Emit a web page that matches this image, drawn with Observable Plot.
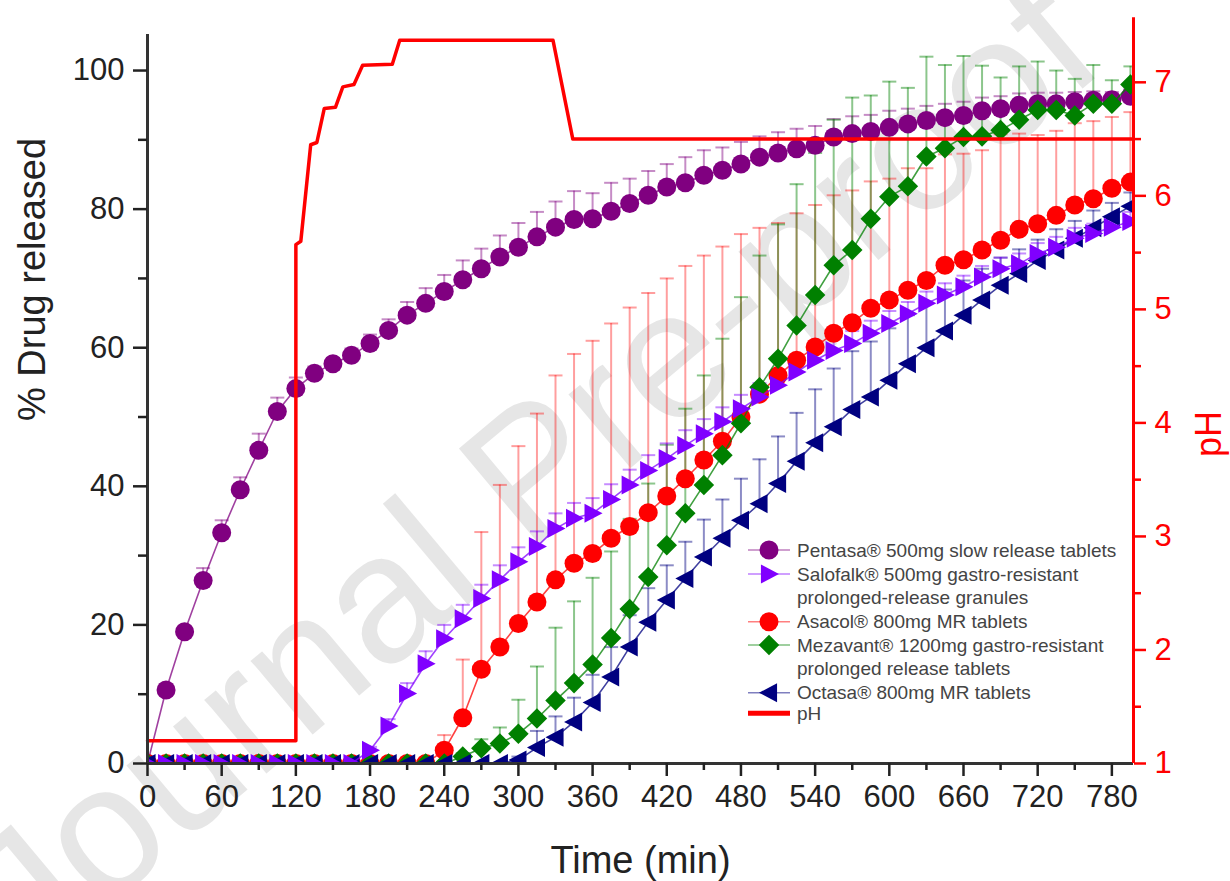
<!DOCTYPE html>
<html>
<head>
<meta charset="utf-8">
<script src="https://cdn.jsdelivr.net/npm/d3@7"></script>
<script src="https://cdn.jsdelivr.net/npm/@observablehq/plot@0.6"></script>
<style>
  html, body { margin: 0; padding: 0; background: #fff; }
  svg { display: block; }
</style>
</head>
<body>
<div id="chart"></div>
<script>
// ---------- DATA ----------
const time = [0,15,30,45,60,75,90,105,120,135,150,165,180,195,210,225,240,255,270,285,300,315,330,345,360,375,390,405,420,435,450,465,480,495,510,525,540,555,570,585,600,615,630,645,660,675,690,705,720,735,750,765,780,795];

const pentasa = [0,10.6,19.0,26.4,33.3,39.5,45.2,50.8,54.1,56.3,57.7,58.9,60.6,62.5,64.7,66.4,68.1,69.8,71.4,73.1,74.5,76.0,77.4,78.5,78.6,79.7,80.8,82.0,83.2,83.8,84.9,85.6,86.5,87.5,88.1,88.7,89.2,90.4,90.9,91.2,91.8,92.3,92.8,93.2,93.5,94.2,94.5,95.0,95.2,95.2,95.5,95.7,95.8,96.3];
const pentasaSD = [0,0.5,0.6,1.8,1.8,1.8,2.4,2.0,1.6,1.0,0.8,1.0,1.3,1.6,1.9,2.2,2.4,2.8,2.9,3.1,3.5,3.6,3.7,4.1,3.7,4.1,3.6,3.5,3.3,3.7,3.6,3.3,3.2,3.0,3.0,2.9,2.8,2.6,2.5,2.4,2.4,2.2,2.1,2.0,2.0,1.9,1.8,1.7,1.6,1.6,1.4,1.3,1.1,1.0];

const salofalk = [0,0,0,0,0,0,0,0,0,0,0,0,1.9,5.4,10.1,14.4,18.0,20.9,23.8,26.5,29.1,31.3,33.9,35.4,36.1,38.1,40.2,42.3,44.0,45.9,47.6,49.3,51.2,52.9,54.6,56.5,58.2,59.6,60.6,62.1,63.5,64.9,66.4,67.6,68.8,70.2,71.4,72.1,73.6,74.5,75.8,76.5,77.4,78.2];
const salofalkSD = [0,0,0,0,0,0,0,0,0,0,0,0,0.5,1.0,1.5,1.8,2.0,2.0,2.0,2.1,2.1,2.2,2.2,2.2,2.2,2.2,2.2,2.2,2.2,2.2,2.1,2.1,2.0,2.0,2.0,1.9,1.9,1.9,1.8,1.8,1.8,1.7,1.7,1.7,1.6,1.6,1.6,1.5,1.5,1.5,1.5,1.4,1.4,1.4];

const asacol = [0,0,0,0,0,0,0,0,0,0,0,0,0,0,0,0,1.9,6.6,13.6,16.8,20.2,23.3,26.5,28.9,30.3,32.5,34.2,36.2,38.6,41.1,43.8,46.5,50.0,53.3,56.0,58.2,60.1,62.1,63.6,65.7,66.9,68.3,69.7,71.9,72.7,74.1,75.5,77.1,77.9,79.1,80.6,81.5,83.0,83.9];
const asacolSD = [0,0,0,0,0,0,0,0,0,0,0,0,0,0,0,0,2.2,8.4,19.8,23.4,25.6,27.2,29.5,30.2,30.7,31.0,31.6,31.7,31.4,30.7,29.5,28.1,26.4,24.0,22.0,21.2,20.5,19.9,19.1,18.3,17.5,17.6,16.2,16.0,15.3,14.4,15.3,13.8,12.8,12.2,11.8,11.2,10.3,10.1];

const mezavant = [0,0,0,0,0,0,0,0,0,0,0,0,0,0,0,0,0,1.0,2.2,2.9,4.3,6.5,9.1,11.6,14.3,18.1,22.3,26.9,31.5,36.1,40.2,44.5,49.1,54.3,58.4,63.2,67.6,71.9,74.1,78.6,81.8,83.3,87.6,88.8,90.4,90.5,91.4,92.9,94.3,94.3,93.5,95.2,95.2,98.0];
const mezavantSD = [0,0,0,0,0,0,0,0,0,0,0,0,0,0,0,0,0,0.5,1.3,2.3,4.9,7.5,10.5,11.8,12.5,12.5,13.0,13.5,14.5,15.1,15.8,16.8,18.2,19.0,19.4,20.4,20.5,21.0,22.0,17.8,16.6,14.2,14.4,12.0,11.7,10.2,7.6,7.7,7.0,5.7,5.3,5.6,3.4,2.6];

const octasa = [0,0,0,0,0,0,0,0,0,0,0,0,0,0,0,0,0,0,0,0,0.5,2.3,3.8,6.0,8.8,12.5,16.8,20.4,23.6,26.7,29.8,32.5,35.1,37.5,40.4,43.6,46.3,48.6,51.1,52.9,55.3,57.7,60.0,62.4,64.7,66.9,69.0,70.7,72.6,74.1,75.8,77.3,78.9,80.4];
const octasaSD = [0,0,0,0,0,0,0,0,0,0,0,0,0,0,0,0,0,0,0,0,0.5,2.4,3.0,3.5,4.0,4.3,4.6,4.9,5.0,5.3,5.4,5.6,6.0,6.4,6.8,7.0,7.7,8.4,8.4,8.0,7.5,7.0,6.5,6.0,5.0,4.5,4.0,3.5,3.0,3.0,2.5,2.5,2.0,2.0];

// pH profile (time in min, pH)
const phTime  = [0, 120, 120, 124, 132, 137, 143, 152, 158, 167, 174, 198, 204, 328, 344, 797.5];
const phValue = [1.2, 1.2, 5.57, 5.6, 6.45, 6.47, 6.77, 6.78, 6.96, 6.98, 7.15, 7.16, 7.37, 7.37, 6.5, 6.5];

// tick labels
const xTicks = [0,60,120,180,240,300,360,420,480,540,600,660,720,780];
const xMinorTicks = [30,90,150,210,270,330,390,450,510,570,630,690,750];
const yTicks = [0,20,40,60,80,100];
const yMinorTicks = [10,30,50,70,90];
const phTicks = [1,2,3,4,5,6,7];
const phMinorTicks = [1.5,2.5,3.5,4.5,5.5,6.5];

const legendLabels = [
  ["Pentasa® 500mg slow release tablets"],
  ["Salofalk® 500mg gastro-resistant", "prolonged-release granules"],
  ["Asacol® 800mg MR tablets"],
  ["Mezavant® 1200mg gastro-resistant", "prolonged release tablets"],
  ["Octasa® 800mg MR tablets"],
  ["pH"]
];

// ---------- SYMBOLS ----------
const triRight = {draw(ctx, size){ const r = Math.sqrt(size/Math.PI); ctx.moveTo(1.05*r,0); ctx.lineTo(-0.85*r,-r); ctx.lineTo(-0.85*r,r); ctx.closePath(); }};
const triLeft  = {draw(ctx, size){ const r = Math.sqrt(size/Math.PI); ctx.moveTo(-1.05*r,0); ctx.lineTo(0.85*r,-r); ctx.lineTo(0.85*r,r); ctx.closePath(); }};
const diamondSq = {draw(ctx, size){ const r = Math.sqrt(size/Math.PI)*1.08; ctx.moveTo(0,-r); ctx.lineTo(r,0); ctx.lineTo(0,r); ctx.lineTo(-r,0); ctx.closePath(); }};
const capSym = {draw(ctx){ ctx.moveTo(-7,0); ctx.lineTo(7,0); }};

// ---------- SERIES ----------
const series = [
  {key:"Pentasa",  values:pentasa,  sd:pentasaSD,  color:"#800080", symbol:d3.symbolCircle, r:9.5, barOpacity:0.45},
  {key:"Salofalk", values:salofalk, sd:salofalkSD, color:"#8000ff", symbol:triRight, r:9.5, barOpacity:0.45},
  {key:"Asacol",   values:asacol,   sd:asacolSD,   color:"#ff0000", symbol:d3.symbolCircle, r:9.5, barOpacity:0.38},
  {key:"Mezavant", values:mezavant, sd:mezavantSD, color:"#008000", symbol:diamondSq, r:9.5, barOpacity:0.45},
  {key:"Octasa",   values:octasa,   sd:octasaSD,   color:"#000080", symbol:triLeft, r:9.5, barOpacity:0.45}
];
const rowsOf = s => time.map((t,i) => ({t, v:s.values[i], sd:s.sd[i]}));

// draw order (bottom to top)
const drawOrder = ["Pentasa","Asacol","Mezavant","Octasa","Salofalk"];

// pH mapped onto the left axis (layout conversion: pH 1 -> 0, pH 7 -> 98.3)
const PH_K = 98.3/6;
const toLeft = p => (p - 1) * PH_K;
const phRows = phTime.map((t,i) => ({t, v: toLeft(phValue[i])}));

const FONT = "'Liberation Sans', Arial, Helvetica, sans-serif";

const marks = [];
// error bars
for (const key of drawOrder) {
  const s = series.find(d => d.key === key);
  const rows = rowsOf(s).filter(d => d.sd > 0);
  marks.push(Plot.ruleX(rows, {x:"t", y1:"v", y2:d => d.v + d.sd, stroke:s.color, strokeOpacity:s.barOpacity, strokeWidth:2, clip:true}));
  marks.push(Plot.dot(rows, {x:"t", y:d => d.v + d.sd, symbol:capSym, r:3, stroke:s.color, strokeOpacity:s.barOpacity, strokeWidth:2, clip:true}));
}
// lines + markers
for (const key of drawOrder) {
  const s = series.find(d => d.key === key);
  const rows = rowsOf(s);
  marks.push(Plot.line(rows, {x:"t", y:"v", stroke:s.color, strokeWidth:1.6, strokeOpacity:0.75, clip:true}));
  marks.push(Plot.dot(rows, {x:"t", y:"v", symbol:s.symbol, r:s.r, fill:s.color, stroke:"none", clip:true}));
}
// pH line
marks.push(Plot.line(phRows, {x:"t", y:"v", stroke:"#ff0000", strokeWidth:3.5, curve:"linear"}));

// axis lines
marks.push(Plot.ruleX([0], {stroke:"#333", strokeWidth:3}));
marks.push(Plot.ruleY([0], {stroke:"#333", strokeWidth:3}));
marks.push(Plot.ruleX([797.5], {stroke:"#ff0000", strokeWidth:3, y1: 0, y2: 107.6}));

// axes
marks.push(Plot.axisX(xTicks, {tickSize:13, tickPadding:8, fontSize:31, color:"#222", strokeWidth:2.5, label:null}));
marks.push(Plot.axisX(xMinorTicks, {tickSize:7, tickFormat:() => "", color:"#222", strokeWidth:2.5, label:null}));
marks.push(Plot.axisY(yTicks, {tickSize:14, tickPadding:9, fontSize:31, color:"#222", strokeWidth:2.5, label:null}));
marks.push(Plot.axisY(yMinorTicks, {tickSize:9, tickFormat:() => "", color:"#222", strokeWidth:2.5, label:null}));
marks.push(Plot.axisY(phTicks.map(toLeft), {anchor:"right", tickSize:12, tickPadding:9, fontSize:31, color:"#ff0000", strokeWidth:2.5, label:null, tickFormat:d => String(Math.round(d/PH_K + 1))}));
marks.push(Plot.axisY(phMinorTicks.map(toLeft), {anchor:"right", tickSize:7, tickFormat:() => "", color:"#ff0000", strokeWidth:2.5, label:null}));

// axis titles
marks.push(Plot.text(["Time (min)"], {text:d => d, frameAnchor:"bottom", dy:97, fontSize:38, fill:"#222", lineAnchor:"middle"}));
marks.push(Plot.text(["% Drug released"], {text:d => d, frameAnchor:"left", dx:-115, dy:22, rotate:-90, fontSize:38, fill:"#222", lineAnchor:"middle"}));
marks.push(Plot.text(["pH"], {text:d => d, frameAnchor:"right", dx:76, dy:12, rotate:-90, fontSize:36, fill:"#ff0000", lineAnchor:"middle"}));

const chart = Plot.plot({
  width:1230, height:881,
  marginLeft:147, marginRight:97, marginTop:34, marginBottom:118,
  x:{domain:[0,797.5]},
  y:{domain:[0,105.2]},
  style:{fontFamily:FONT, background:"#fff", overflow:"visible"},
  marks
});

// watermark
const svg = d3.select(chart);
svg.insert("text", ":first-child")
  .attr("x", 530).attr("y", 470)
  .attr("transform", "rotate(-40,530,470)")
  .attr("text-anchor", "middle")
  .attr("dominant-baseline", "central")
  .attr("font-family", FONT)
  .attr("font-size", 182)
  .attr("fill", "#e6e6e6")
  .text("Journal Pre-proof");

// legend
const lg = svg.append("g").attr("font-family", FONT).attr("font-size", 19).attr("fill", "#444").attr("text-anchor", "start");
const rowY = [550, 574, 621.7, 645, 692.7, 713.3];
const lineGap = 23.3;
const legendSeries = ["Pentasa","Salofalk","Asacol","Mezavant","Octasa","pH"];
legendSeries.forEach((key, i) => {
  const y = rowY[i];
  if (key === "pH") {
    lg.append("line").attr("x1",748).attr("x2",790).attr("y1",y).attr("y2",y).attr("stroke","#ff0000").attr("stroke-width",5);
  } else {
    const s = series.find(d => d.key === key);
    lg.append("line").attr("x1",748).attr("x2",790).attr("y1",y).attr("y2",y).attr("stroke",s.color).attr("stroke-opacity",0.5).attr("stroke-width",1.6);
    lg.append("path").attr("transform",`translate(769,${y})`).attr("d", d3.symbol().type(s.symbol).size(Math.PI*s.r*s.r)()).attr("fill", s.color);
  }
  legendLabels[i].forEach((txt, j) => {
    lg.append("text").attr("x",797).attr("y", y + j*lineGap).attr("dy","0.35em").attr("text-anchor","start").text(txt);
  });
});

document.getElementById("chart").appendChild(chart);
</script>
</body>
</html>
